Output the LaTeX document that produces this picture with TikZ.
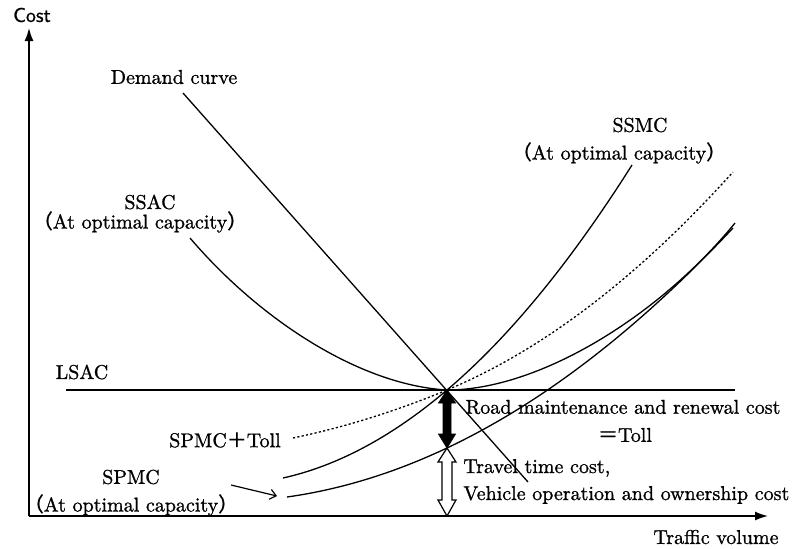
\documentclass[tikz,border=0pt]{standalone}
\usepackage{fontspec}
\newfontfamily\cjk[RawFeature={embolden=0.8}]{Noto Sans CJK JP}
\newfontfamily\lblfont[RawFeature={embolden=1.0}]{Latin Modern Roman}
\newfontfamily\costfont[RawFeature={embolden=0.8}]{Latin Modern Sans}
\usetikzlibrary{arrows.meta,calc}
\newcommand{\fwl}{{\cjk （}}
\newcommand{\fwr}{{\cjk ）}}
\newcommand{\fwplus}{{\cjk ＋}}
\newcommand{\fweq}{{\cjk ＝}}
\begin{document}
\begin{tikzpicture}[x=0.5pt,y=-0.5pt,
  lbl/.style={font=\lblfont\fontsize{10}{12}\selectfont, inner sep=0pt},
  curve/.style={line width=0.65pt},
  dotcurve/.style={line width=0.65pt, dash pattern=on 1.1pt off 1.1pt},
  axisline/.style={line width=0.75pt,-{Latex[length=6.5pt,width=4.5pt]}},
  pointer/.style={line width=0.6pt,-{Straight Barb[length=3pt,width=5pt]}},
  blackarrow/.style={fill=black,draw=black,line width=0.4pt},
  whitearrow/.style={fill=white,draw=black,line width=0.6pt}]
\useasboundingbox (0,0) rectangle (798,548);

% key points
\coordinate (O) at (29,516);
\coordinate (Ytop) at (29,28);
\coordinate (Xend) at (768,516);
\coordinate (E) at (447,390);
\coordinate (P) at (447,448);
\coordinate (B) at (447,516);
\coordinate (L0) at (66,390);
\coordinate (L1) at (735,390);
\coordinate (dA) at (183,93);
\coordinate (dB) at (528,482);

% axes
\draw[axisline] (O) -- (Ytop);
\draw[axisline] (O) -- (Xend);

% LSAC
\draw[curve] (L0) -- (L1);

% demand curve
\draw[curve] (dA) -- (dB);

% SSAC
\draw[curve] (190,238) .. controls (260,320) and (360,385) .. (E)
  .. controls (540,390) and (660,315) .. (735,223);

% SSMC
\draw[curve] (283,478) .. controls (337.7,465.8) and (392.3,436.5) .. (E)
  .. controls (508.7,337.6) and (570.3,262.6) .. (632,165);

% SPMC + Toll (dotted)
\draw[dotcurve] (293,438) .. controls (344.3,427.3) and (395.7,411.3) .. (E)
  .. controls (542.3,350.3) and (637.7,277.7) .. (733,172);

% SPMC
\draw[curve] (287,497) .. controls (435.7,476.1) and (584.3,386.5) .. (733,228);

% black double arrow (toll)
\path[blackarrow] (E) -- ($(E)+(8.5,13)$) -- ($(E)+(4,13)$) -- ($(P)+(4,-14)$)
  -- ($(P)+(8.5,-14)$) -- (P) -- ($(P)+(-8.5,-14)$) -- ($(P)+(-4,-14)$)
  -- ($(E)+(-4,13)$) -- ($(E)+(-8.5,13)$) -- cycle;

% white double arrow
\path[whitearrow] (P) -- ($(P)+(9,14)$) -- ($(P)+(5,14)$) -- ($(B)+(5,-16)$)
  -- ($(B)+(9,-16)$) -- (B) -- ($(B)+(-9,-16)$) -- ($(B)+(-5,-16)$)
  -- ($(P)+(-5,14)$) -- ($(P)+(-9,14)$) -- cycle;

% labels
\node[lbl,font=\costfont\fontsize{10}{12}\selectfont] (cost) at (32,15) {Cost};
\node[lbl] (traffic) at (716,537) {Traffic volume};
\node[lbl] (demand) at (174,77) {Demand curve};
\node[lbl] (ssac) at (150,202) {SSAC};
\node[lbl] (ssaccap) at (140,222) {\fwl At optimal capacity\fwr};
\node[lbl] (ssmc) at (640,125) {SSMC};
\node[lbl] (ssmccap) at (619,153) {\fwl At optimal capacity\fwr};
\node[lbl] (lsac) at (82,372) {LSAC};
\node[lbl] (spmctoll) at (225,440) {SPMC\fwplus Toll};
\node[lbl] (spmc) at (131,477) {SPMC};
\node[lbl] (spmccap) at (131,505) {\fwl At optimal capacity\fwr};
\node[lbl] (road) at (623,407) {Road maintenance and renewal cost};
\node[lbl] (toll) at (625,435) {\fweq Toll};
\node[lbl,anchor=west] (travel) at (463,468) {Travel time cost,};
\node[lbl,anchor=west] (vehicle) at (463,495) {Vehicle operation and ownership cost};

% pointer from SPMC label to curve
\coordinate (ptrS) at (231,485);
\coordinate (ptrE) at (277,496);
\draw[pointer] (ptrS) -- (ptrE);
\end{tikzpicture}
\end{document}
